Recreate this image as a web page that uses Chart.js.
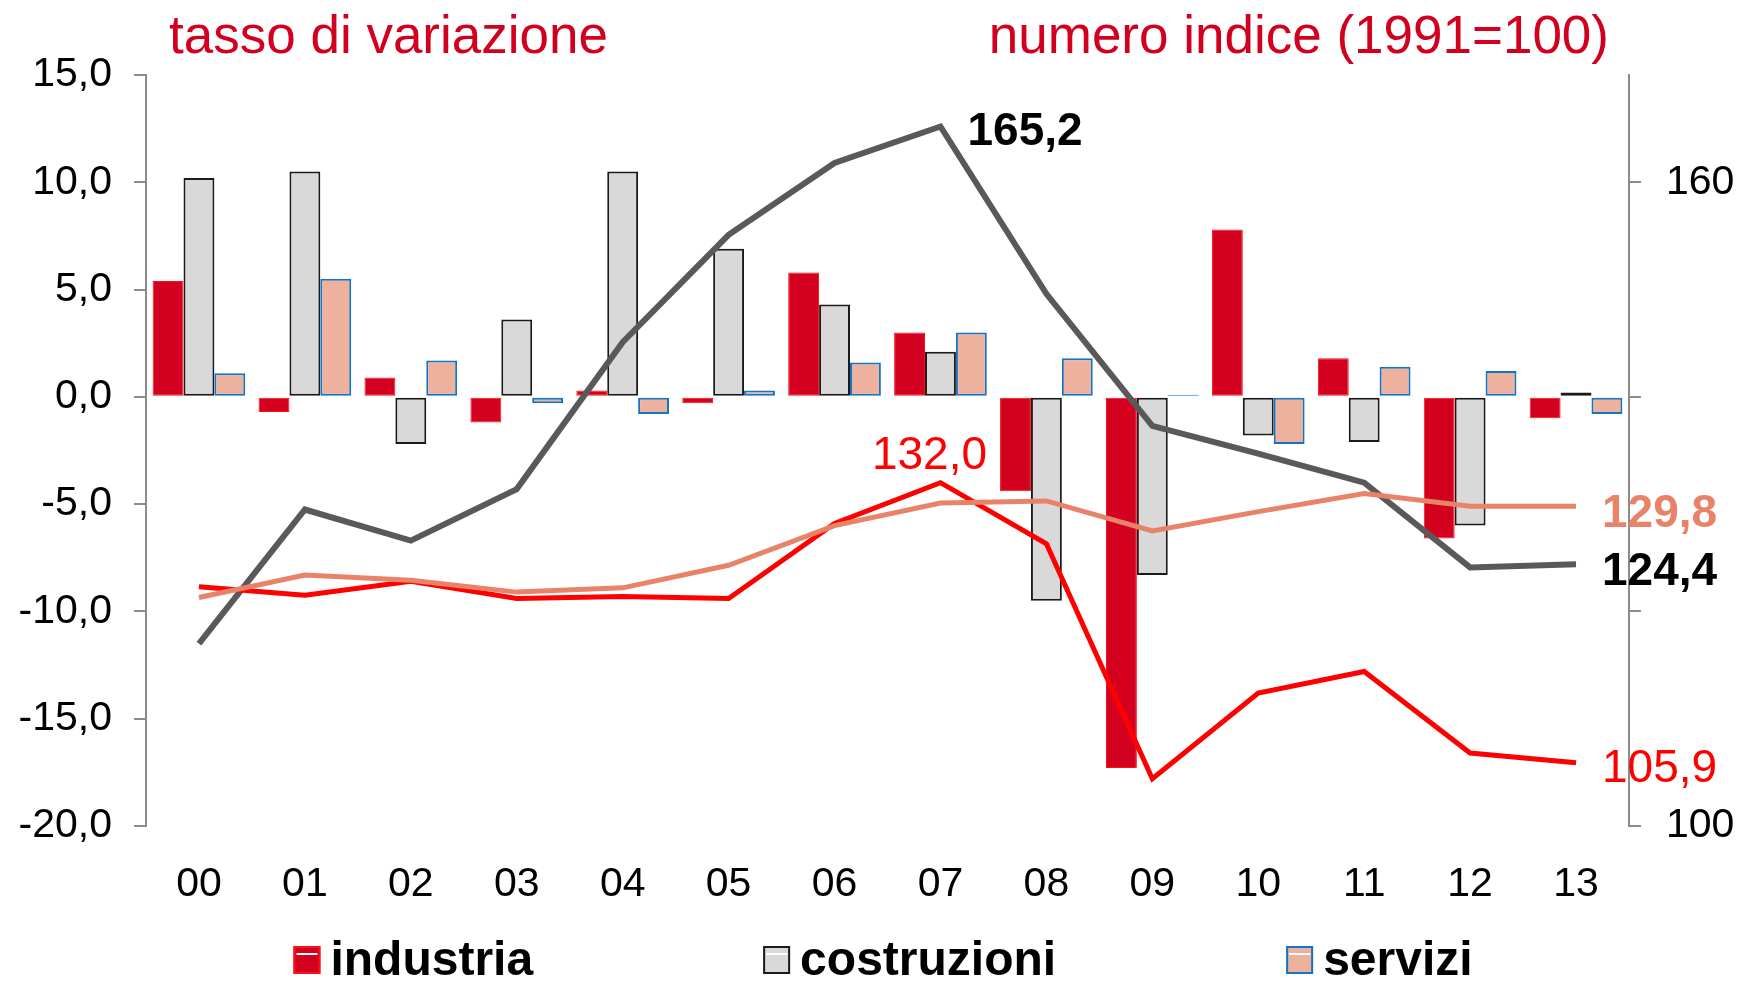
<!DOCTYPE html>
<html>
<head>
<meta charset="utf-8">
<script src="https://cdn.jsdelivr.net/npm/chart.js@4.4.1/dist/chart.umd.min.js"></script>
<style>
  html, body { margin: 0; padding: 0; background: #fff; }
  canvas { display: block; }
</style>
</head>
<body>
<canvas id="grafico" width="1744" height="981"></canvas>
<script>
const anni = ["00", "01", "02", "03", "04", "05", "06", "07", "08", "09", "10", "11", "12", "13"];

// tasso di variazione (asse sinistro)
const varIndustria = [5.4, -0.7, 0.9, -1.2, 0.3, -0.3, 5.8, 3.0, -4.4, -17.3, 7.8, 1.8, -6.6, -1.0];
const varCostruzioni = [10.2, 10.5, -2.2, 3.6, 10.5, 6.9, 4.3, 2.1, -9.5, -8.3, -1.8, -2.1, -6.0, 0.2];
const varServizi = [1.1, 5.5, 1.7, -0.3, -0.8, 0.3, 1.6, 3.0, 1.8, 0.1, -2.2, 1.4, 1.2, -0.8];

// numero indice 1991=100 (asse destro)
const idxIndustria = [122.3, 121.5, 122.8, 121.2, 121.4, 121.2, 128.2, 132.0, 126.3, 104.4, 112.4, 114.4, 106.8, 105.9];
const idxCostruzioni = [117.0, 129.5, 126.6, 131.4, 145.1, 155.1, 161.8, 165.2, 149.6, 137.3, 134.7, 132.0, 124.1, 124.4];
const idxServizi = [121.3, 123.4, 122.9, 121.8, 122.2, 124.3, 128.0, 130.1, 130.3, 127.5, 129.3, 131.0, 129.8, 129.8];

const FONT = "'Liberation Sans', Arial, sans-serif";
const virgola = v => v.toFixed(1).replace(".", ",");

// etichette sui punti delle linee
const etichette = [
  { ds: 4, i: 7, color: "#000", bold: true, align: "left", dx: 27, dy: 6 },
  { ds: 3, i: 7, color: "#ff0000", bold: false, align: "center", dx: -11, dy: -26 },
  { ds: 5, i: 13, color: "#e8836a", bold: true, align: "left", dx: 26, dy: 8 },
  { ds: 4, i: 13, color: "#000", bold: true, align: "left", dx: 26, dy: 8 },
  { ds: 3, i: 13, color: "#ff0000", bold: false, align: "left", dx: 26, dy: 7 }
];

const testiPlugin = {
  id: "testi",
  afterDatasetsDraw(chart) {
    const ctx = chart.ctx;
    ctx.save();
    ctx.textBaseline = "middle";
    etichette.forEach(e => {
      const pt = chart.getDatasetMeta(e.ds).data[e.i];
      const val = chart.data.datasets[e.ds].data[e.i];
      ctx.font = (e.bold ? "bold " : "") + "46px " + FONT;
      ctx.fillStyle = e.color;
      ctx.textAlign = e.align;
      ctx.fillText(virgola(val), pt.x + e.dx, pt.y + e.dy);
    });
    ctx.restore();
  },
  afterDraw(chart) {
    const ctx = chart.ctx;
    ctx.save();
    // titoli
    ctx.font = "53px " + FONT;
    ctx.fillStyle = "#d2001e";
    ctx.textBaseline = "alphabetic";
    ctx.textAlign = "left";
    ctx.fillText("tasso di variazione", 169, 53);
    ctx.textAlign = "right";
    ctx.fillText("numero indice (1991=100)", 1609, 53);

    // legenda delle barre
    const barre = chart.data.datasets.filter(d => d.type === "bar");
    ctx.font = "bold 48px " + FONT;
    const box = 27, gap = 10, spazio = 230;
    const larghezze = barre.map(d => box + gap + ctx.measureText(d.label).width);
    const totale = larghezze.reduce((a, b) => a + b, 0) + spazio * (barre.length - 1);
    let x = chart.width / 2 + 11 - totale / 2;
    const yBox = 946;
    barre.forEach((d, k) => {
      ctx.fillStyle = d.backgroundColor;
      ctx.fillRect(x, yBox, box, 28);
      ctx.strokeStyle = d.borderColor;
      ctx.lineWidth = 2;
      ctx.strokeRect(x + 1, yBox + 1, box - 2, 26);
      ctx.fillStyle = "#fff";
      ctx.fillRect(x + 3, yBox + 7, box - 6, 2);
      ctx.fillStyle = "#000";
      ctx.textAlign = "left";
      ctx.fillText(d.label, x + box + gap, 975);
      x += larghezze[k] + spazio;
    });
    ctx.restore();
  }
};

const assiComuni = {
  grid: { drawOnChartArea: false, color: "#8c8c8c", lineWidth: 2, tickLength: 12 },
  border: { color: "#8c8c8c", width: 2 }
};

new Chart(document.getElementById("grafico").getContext("2d"), {
  data: {
    labels: anni,
    datasets: [
      { type: "bar", label: "industria", data: varIndustria, yAxisID: "y", order: 2,
        backgroundColor: "#d3001f", borderColor: "#ff1010", borderWidth: 1, borderSkipped: false },
      { type: "bar", label: "costruzioni", data: varCostruzioni, yAxisID: "y", order: 2,
        backgroundColor: "#d9d9d9", borderColor: "#1a1a1a", borderWidth: 2, borderSkipped: false },
      { type: "bar", label: "servizi", data: varServizi, yAxisID: "y", order: 2,
        backgroundColor: "#eeb19e", borderColor: "#1474c4", borderWidth: 2, borderSkipped: false },
      { type: "line", label: "industria (indice)", data: idxIndustria, yAxisID: "y1", order: 1,
        borderColor: "#ff0000", borderWidth: 5, pointRadius: 0, tension: 0, fill: false },
      { type: "line", label: "costruzioni (indice)", data: idxCostruzioni, yAxisID: "y1", order: 1,
        borderColor: "#595959", borderWidth: 6, pointRadius: 0, tension: 0, fill: false },
      { type: "line", label: "servizi (indice)", data: idxServizi, yAxisID: "y1", order: 0,
        borderColor: "#e8836a", borderWidth: 5, pointRadius: 0, tension: 0, fill: false }
    ]
  },
  options: {
    responsive: false,
    animation: false,
    layout: { padding: { top: 75, bottom: 70, left: 0, right: 0 } },
    datasets: { bar: { categoryPercentage: 0.875, barPercentage: 1.0 } },
    plugins: { legend: { display: false }, tooltip: { enabled: false } },
    scales: {
      x: {
        grid: { display: false },
        border: { display: false },
        ticks: { color: "#000", font: { size: 41, family: FONT }, padding: 26, maxRotation: 0 },
        afterFit: s => { s.height = 85; }
      },
      y: {
        position: "left",
        min: -20, max: 15,
        ...assiComuni,
        ticks: { stepSize: 5, color: "#000", font: { size: 41, family: FONT }, padding: 22, callback: v => virgola(v) },
        afterFit: s => { s.width = 146; }
      },
      y1: {
        position: "right",
        min: 100, max: 170,
        ...assiComuni,
        afterBuildTicks: s => { s.ticks = [100, 120, 140, 160].map(v => ({ value: v })); },
        ticks: { color: "#000", font: { size: 41, family: FONT }, padding: 25,
          callback: v => (v === 100 || v === 160) ? String(v) : "" },
        afterFit: s => { s.width = 115; }
      }
    }
  },
  plugins: [testiPlugin]
});
</script>
</body>
</html>
